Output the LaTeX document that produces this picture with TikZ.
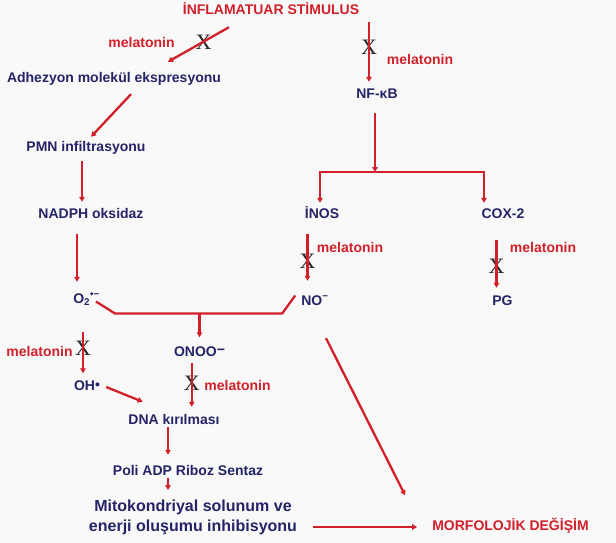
\documentclass[tikz,border=0pt]{standalone}
\usepackage{fontspec}
\setmainfont{Liberation Sans}
\newfontfamily\crossfont{Liberation Serif}
\usetikzlibrary{arrows.meta}

\definecolor{pathred}{RGB}{210,32,42}
\definecolor{termblue}{RGB}{36,36,104}
\definecolor{paper}{RGB}{249,249,249}

\begin{document}
\begin{tikzpicture}[
    x=1pt,
    y=-1pt,
    term/.style={
        inner sep=0,
        text height=10pt,
        text depth=3pt,
        text=termblue,
        font=\fontsize{14}{16}\selectfont\bfseries
    },
    effect/.style={
        term,
        text=pathred
    },
    cross/.style={
        inner sep=0,
        text=black!85,
        font=\crossfont\fontsize{22}{22}\selectfont
    },
    arrow/.style={
        draw=pathred,
        line width=2.3pt,
        -{Triangle[length=5pt,width=5.5pt]}
    },
    link/.style={
        draw=pathred,
        line width=2.3pt
    }
]

    % Page
    \fill[paper] (0,0) rectangle (616,543);
    \useasboundingbox (0,0) rectangle (616,543);

    % Terms
    \node[effect] (stim) at (271,11.5) {İNFLAMATUAR STİMULUS};
    \node[term] (adh) at (114,79.5) {Adhezyon molekül ekspresyonu};
    \node[term] (nfkb) at (377,95.5) {NF-κB};
    \node[term] (pmn) at (86,147.5) {PMN infiltrasyonu};
    \node[term] (nadph) at (91,214.5) {NADPH oksidaz};
    \node[term] (inos) at (322,214.5) {İNOS};
    \node[term] (cox) at (503,214.5) {COX-2};
    \node[term] (o2) at (86.5,299.5) {O\textsubscript{2}\textsuperscript{•−}};
    \node[term] (no) at (315,301.5) {NO\textsuperscript{−}};
    \node[term] (pg) at (502.5,301.5) {PG};
    \node[term] (onoo) at (199.5,353) {ONOO\raisebox{2pt}{−}};
    \node[term] (oh) at (87,387) {OH\raisebox{1pt}{•}};
    \node[term] (dna) at (174,420.5) {DNA kırılması};
    \node[term] (parp) at (188,471.5) {Poli ADP Riboz Sentaz};
    \node[term, anchor=north, align=center,
          font=\fontsize{16}{19.5}\selectfont\bfseries,
          text height=, text depth=] (mito) at (193,500)
          {Mitokondriyal solunum ve\\enerji oluşumu inhibisyonu};
    \node[effect] (morf) at (510.5,527) {MORFOLOJİK DEĞİŞİM};

    % Melatonin
    \node[effect] (m1) at (141.5,44.5) {melatonin};
    \node[effect] (m2) at (420,61.5) {melatonin};
    \node[effect] (m3) at (350,248.5) {melatonin};
    \node[effect] (m4) at (543,248.5) {melatonin};
    \node[effect] (m5) at (39.5,352.5) {melatonin};
    \node[effect] (m6) at (237.5,386.5) {melatonin};

    % Blocks
    \node[cross] (x1) at (203.5,42.5) {X};
    \node[cross] (x2) at (369,47.5) {X};
    \node[cross] (x3) at (307.5,261) {X};
    \node[cross] (x4) at (496.5,266.5) {X};
    \node[cross] (x5) at (83,348.5) {X};
    \node[cross] (x6) at (191.7,383.5) {X};

    % Arrows
    \draw[arrow] ([shift={(-42pt,-9pt)}]stim.south) -- ([shift={(54pt,11pt)}]adh.north);
    \draw[arrow, shorten <=4pt, shorten >=7pt] (stim.south -| x2) -- (nfkb.north -| x2);
    \draw[arrow] ([shift={(17pt,-8pt)}]adh.south) -- ([shift={(5pt,4pt)}]pmn.north);
    \draw[arrow] ([shift={(-4pt,-7pt)}]pmn.south) -- ([shift={(-9pt,6pt)}]nadph.north);
    \draw[arrow] ([shift={(-14pt,-13pt)}]nadph.south) -- ([shift={(-9.5pt,11pt)}]o2.north);

    % NF-kB fork
    \coordinate (fork) at (375,172);
    \draw[arrow] ([shift={(-2pt,-11pt)}]nfkb.south) -- (fork);
    \draw[arrow] (fork) -| ([shift={(-2pt,5pt)}]inos.north);
    \draw[arrow] (fork) -| ([shift={(-19pt,5pt)}]cox.north);
    \draw[arrow, shorten <=13pt, shorten >=14pt] (inos.south -| x3) -- (no.north -| x3);
    \draw[arrow, shorten <=19pt, shorten >=7pt] (cox.south -| x4) -- (pg.north -| x4);

    % Peroxynitrite
    \draw[link, line join=round] ([shift={(-4pt,-2pt)}]o2.east) -- ++(19pt,-12pt) coordinate (merge)
        -- ([shift={(-19pt,-12pt)}]no.west) -- ([shift={(-6pt,6pt)}]no.west);
    \draw[arrow] (onoo.north |- merge) -- ([yshift=9pt]onoo.north);

    % Damage
    \draw[arrow, shorten <=26pt, shorten >=7pt] (o2.south -| x5) -- (oh.north -| x5);
    \draw[arrow] ([xshift=6pt]oh.east) -- ([shift={(14.5pt,12pt)}]dna.north west);
    \draw[arrow, shorten <=3pt, shorten >=7pt] (onoo.south -| x6) -- (dna.north -| x6);
    \draw[arrow, shorten >=10pt] ([xshift=-6pt]dna.south) -- ([xshift=-6pt]dna.south |- parp.north);
    \draw[arrow, shorten >=10pt] ([xshift=-20pt]parp.south) -- ([xshift=-20pt]parp.south |- mito.north);
    \draw[arrow, shorten <=16pt, shorten >=15pt] (mito.east |- morf.west) -- (morf.west);
    \draw[arrow] ([shift={(11pt,-30pt)}]no.south) -- ([shift={(-27pt,25pt)}]morf.north west);

\end{tikzpicture}
\end{document}
